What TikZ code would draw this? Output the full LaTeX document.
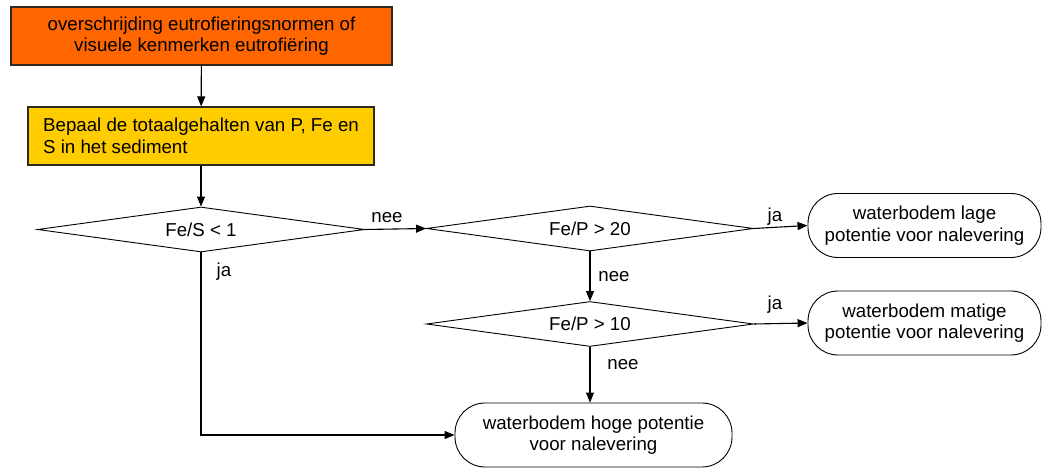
\documentclass[tikz,border=0pt]{standalone}
\usepackage{fontspec}
\setmainfont{Liberation Sans}
\usetikzlibrary{shapes.geometric,arrows.meta}
\definecolor{normorange}{RGB}{255,102,0}
\definecolor{stepyellow}{RGB}{255,204,0}
\definecolor{boxedge}{RGB}{50,40,30}

\begin{document}
\begin{tikzpicture}[x=1pt,y=-1pt,
  every node/.style={font=\fontsize{18.7}{21.5}\selectfont, inner sep=0pt},
  actionbox/.style={draw=boxedge, line width=1.2pt, align=center},
  decision/.style={diamond, draw, line width=0.9pt, aspect=7.3, minimum width=327pt, minimum height=45pt},
  outcome/.style={draw, line width=0.9pt, rounded corners=30pt, align=center, minimum height=64pt},
  flow/.style={line width=1.1pt, -{Triangle[length=10pt,width=8pt]}},
  answer/.style={font=\fontsize{18.7}{21.5}\selectfont}
]
\useasboundingbox (0,0) rectangle (1045,468);

\node[actionbox, fill=normorange, minimum width=381pt, minimum height=58pt] (trigger) at (201.5,36)
  {overschrijding eutrofieringsnormen of\\visuele kenmerken eutrofi\"ering};
\node[actionbox, fill=stepyellow, minimum width=346pt, minimum height=58pt, align=left] (analyse) at (201,136)
  {Bepaal de totaalgehalten van P, Fe en\\S in het sediment};

\node[decision] (fes) at (201,229.5) {Fe/S < 1};
\node[decision] (fep20) at (590,228.5) {Fe/P > 20};
\node[decision] (fep10) at (590,324) {Fe/P > 10};

\node[outcome, minimum width=233pt] (low) at (924.5,225.5) {waterbodem lage\\potentie voor nalevering};
\node[outcome, minimum width=233pt] (mid) at (924.5,323) {waterbodem matige\\potentie voor nalevering};
\node[outcome, minimum width=277pt] (high) at (593.5,435) {waterbodem hoge potentie\\voor nalevering};

\draw[flow] (trigger) -- (analyse);
\draw[flow] (analyse) -- (fes);
\draw[flow] (fes.east) -- (fep20.west);
\draw[flow] (fep20.east) -- (low.west);
\draw[flow] (fep20.south) -- (fep10.north);
\draw[flow] (fep10.east) -- (mid.west);
\draw[flow] (fep10.south) -- (high.north -| fep10.south);
\draw[flow] (fes.south) |- (high.west);

\node[answer] (neeA) at (387,218) {nee};
\node[answer] (jaA) at (775,217) {ja};
\node[answer] (neeB) at (614,277) {nee};
\node[answer] (jaB) at (775,305) {ja};
\node[answer] (neeC) at (623,365) {nee};
\node[answer] (jaC) at (224,272) {ja};
\end{tikzpicture}
\end{document}
